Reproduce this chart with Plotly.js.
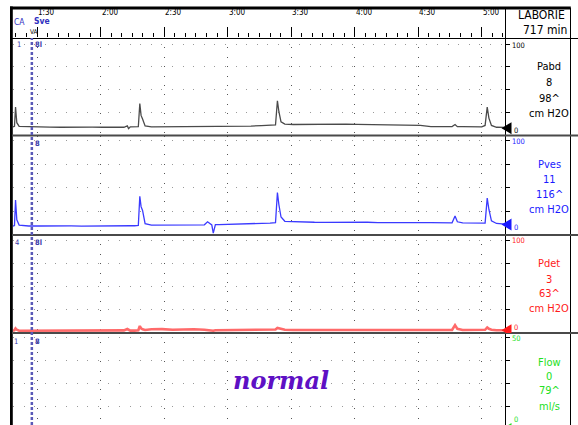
<!DOCTYPE html>
<html>
<head>
<meta charset="utf-8">
<script src="https://cdn.plot.ly/plotly-3.0.1.min.js"></script>
<style>html,body{margin:0;padding:0;background:#fff;}#chart{width:578px;height:425px;}</style>
</head>
<body>
<div id="chart"></div>
<script>
// ---- data (time in seconds) ----
const times = [78.6,79.3,79.8,80.4,81.5,86,91,96,101,106,111,116,121,126,131,132.6,133.2,134,136,137.8,138.5,139.1,139.8,141,144,149,154,159,164,169,170.5,172.5,173.2,174.2,176,181,186,191,196,200,202.6,203.5,204.2,205.2,207,211,216,221,226,231,236,241,246,251,256,261,266,271,276,281,286,287.4,288.5,291,296,300,301.6,302.6,303.4,304.6,307,311];
const pabd = [9.5,10,31,14,10,9.5,9,9.2,9,9.3,9,9.1,9,9.2,9,10.5,7.5,9.5,9.3,9.6,35,22,18,10.5,9.5,9.6,9.4,9.8,9.6,9.5,9.6,9.5,9.4,9.6,9.7,9.8,10,10.3,10.8,11,11.5,38,26,15,12.5,12,12.2,12,12.3,12.1,12.4,12.2,12,12.3,12,12.1,11.8,11,9.8,9.6,9.8,12,9.6,9.6,9.5,9.5,11,31,19,11,9,8.8];
const pves = [9.5,10,37,16,10.5,9.5,9.5,9.8,9.5,9.6,9.4,9.6,9.5,9.7,9.8,10,10.5,9.8,9.8,10.2,41,30,26,12,10.4,10.6,10.5,10.8,10.6,10.8,14,10.6,2,10.9,11,11.2,11.3,11.6,12.2,12.6,13,45,32,19,14.5,14,13.6,13.5,13.4,13.6,13.4,13.3,13.5,13.2,13,13.2,13.3,13,13,12.8,12.9,20,14,12.8,12.6,12.4,12.6,39,27,15,12.2,11.5];
const pdet = [2.5,3,5,3.5,2.5,2.5,2.5,2.6,2.5,2.4,2.5,2.6,2.5,2.5,2.8,4.3,3.5,2.6,2.6,3,7.5,5,4,3.2,4,4.2,3.5,4,4,3.5,3,2.8,2.5,3,3,3.2,3.1,3,3.2,3.3,3.8,5.5,5,4,3.5,3.3,3.3,3.4,3.2,3.1,3.2,3,3.2,3.1,3.1,3,3.2,3.2,3,3,3.3,8.5,4.5,3.2,3.1,3,3.5,6,4.5,3.5,3,3];
const flow = times.map(() => 0);

const channelNames = ['Pabd','Pves','Pdet','Flow'];
const currentValues = ['8','11','3','0'];
const maxValues = ['98^','116^','63^','79^'];
const units = ['cm H2O','cm H2O','cm H2O','ml/s'];
const fullScale = [100,100,100,50];
const channelColors = ['#000000','#1a1aff','#ff1a1a','#22e022'];
const lineColors = ['#4a4a4a','#3a3aff','#ff6a6a','#22e022'];
const lineWidths = [1.3,1.3,2.6,1.3];
const tickTimes = [90,120,150,180,210,240,270,300];
const tickLabels = ['1:30','2:00','2:30','3:00','3:30','4:00','4:30','5:00'];
const eventTime = 87.5;
const series = [pabd,pves,pdet,flow];
const lastValues = [8,11,3,0];

// ---- layout helpers (pixel -> paper) ----
const L = 13, R = 505, T = 38, B = 425;
const xp = px => (px - L) / (R - L);
const yp = py => (B - py) / (B - T);
const NF = 'Liberation Sans Narrow, DejaVu Sans Condensed, Arial Narrow, sans-serif';

const domains = [[yp(135.5),1],[yp(235),yp(135.5)],[yp(333),yp(235)],[0,yp(333)]];
const ranges = [[0,106.6],[0,105.3],[0,105.4],[2.2,52.2]];
const yNames = ['y','y2','y3','y4'];

const traces = [];
series.forEach((s,i)=>{
  traces.push({x: times, y: s, xaxis:'x', yaxis:yNames[i], type:'scatter', mode:'lines',
    line:{color:lineColors[i], width:lineWidths[i]}, hoverinfo:'skip'});
});

const layout = {
  width:578, height:425,
  margin:{l:L, r:578-R, t:T, b:0, pad:0},
  paper_bgcolor:'#fff', plot_bgcolor:'#fff',
  showlegend:false,
  xaxis:{range:[78.6,311.0], side:'top', anchor:'y', tickmode:'array', tickvals:tickTimes,
    showticklabels:false, ticks:'outside', ticklen:10, tickcolor:'#000', tickwidth:1,
    showgrid:true, gridcolor:'#555', gridwidth:1, griddash:'1px,8.4px', zeroline:false, showline:false,
    minor:{dtick:5, tick0:0, ticks:'outside', ticklen:4, tickcolor:'#000', showgrid:false}},
  shapes:[], annotations:[]
};
yNames.forEach((n,i)=>{
  const key = i===0 ? 'yaxis' : 'yaxis'+(i+1);
  const fs = fullScale[i];
  layout[key] = {domain:domains[i], range:ranges[i], anchor:'x', side:'right',
    tickmode:'array', tickvals:[0,fs/4,fs/2,3*fs/4,fs], showticklabels:false,
    ticks:'outside', ticklen:4, tickcolor:'#000',
    showgrid:true, gridcolor:'#9a9a9a', gridwidth:1, griddash:'1px,9.6px',
    zeroline:false, showline:false, fixedrange:true};
});

const S = layout.shapes, A = layout.annotations;
// frame
S.push({type:'rect', xref:'paper', yref:'paper', x0:xp(10), x1:xp(570.8), y0:yp(9.5), y1:yp(6.5), fillcolor:'#000', line:{width:0}});
S.push({type:'rect', xref:'paper', yref:'paper', x0:xp(10), x1:xp(12.8), y0:yp(425), y1:yp(6.5), fillcolor:'#000', line:{width:0}});
S.push({type:'line', xref:'paper', yref:'paper', x0:xp(505.5), x1:xp(505.5), y0:yp(425), y1:yp(8), line:{color:'#000', width:1}});
S.push({type:'line', xref:'paper', yref:'paper', x0:xp(570.5), x1:xp(570.5), y0:yp(425), y1:yp(8), line:{color:'#000', width:1}});
S.push({type:'line', xref:'paper', yref:'paper', x0:xp(12), x1:xp(578), y0:yp(38.5), y1:yp(38.5), line:{color:'#000', width:1}});
[135.5,235,333].forEach(y=>{
  S.push({type:'line', xref:'paper', yref:'paper', x0:xp(12), x1:xp(578), y0:yp(y), y1:yp(y), line:{color:'#4a4a4a', width:2}});
});
// event marker
S.push({type:'line', xref:'x', yref:'paper', x0:eventTime, x1:eventTime, y0:0, y1:1, line:{color:'#5a5ab8', width:2.5, dash:'3px,2px'}});
// current-value pointers (triangles) at the right axis, placed at each channel's last value
lastValues.forEach((v,i)=>{
  S.push({type:'path', xref:'paper', xsizemode:'pixel', xanchor:xp(506.5), yref:yNames[i], ysizemode:'pixel', yanchor:v,
    path:'M -5,0 L 5,-6 L 5,6 Z', fillcolor:channelColors[i], line:{width:0}});
});

function ann(text, x, y, color, size, xanchor, extra){
  A.push(Object.assign({text:text, xref:'paper', yref:'paper', x:xp(x), y:yp(y), xanchor:xanchor||'center', yanchor:'middle',
    showarrow:false, font:{family:NF, size:size, color:color}}, extra||{}));
}
// time labels
tickTimes.forEach((t,i)=>{
  A.push({text:tickLabels[i], xref:'x', yref:'paper', x:t, y:yp(12.5), xanchor:'left', yanchor:'middle', xshift:-1,
    showarrow:false, font:{family:NF, size:8, color:'#000'}});
});
// header box
ann('LABORIE', 541, 15, '#000', 12);
ann('717 min', 545, 30, '#000', 12);
// channel blocks
const blockY = [[67,82,98,113],[164,180,194,209],[263,279,293,308],[362,376,390,406]];
const scaleTopY = [45,141,240,338];
const scaleZeroY = [130,228,328,419];
channelNames.forEach((nm,i)=>{
  const c = channelColors[i];
  ann(nm, 549, blockY[i][0], c, 11);
  ann(currentValues[i], 549, blockY[i][1], c, 11);
  ann(maxValues[i], 549, blockY[i][2], c, 11);
  ann(units[i], 549, blockY[i][3], c, 11);
  ann(String(fullScale[i]), 510, scaleTopY[i], c, 7.5, 'left');
  ann('0', 512, scaleZeroY[i], c, 7.5, 'left');
});
// event labels
ann('CA', 12, 22, '#3030c0', 8.5, 'left');
ann('<b>Sve</b>', 32, 21.5, '#3030c0', 8.5, 'left');
ann('VA', 28, 32, '#000', 6.5, 'left');
[[15,44,'1'],[33,44,'<b>8l</b>'],[33,143,'<b>8</b>'],[13,242,'4'],[33,242,'<b>8l</b>'],[12,341,'1'],[33,341,'<b>8</b>']].forEach(p=>{
  ann(p[2], p[0], p[1], '#3a3aa8', 7.5, 'left');
});
// comment text
A.push({text:'<b><i>normal</i></b>', xref:'paper', yref:'paper', x:xp(281), y:yp(380), xanchor:'center', yanchor:'middle',
  showarrow:false, font:{family:'DejaVu Serif, Liberation Serif, serif', size:24, color:'#5e10c4'}});

Plotly.newPlot('chart', traces, layout, {staticPlot:true, displayModeBar:false});
</script>
</body>
</html>
